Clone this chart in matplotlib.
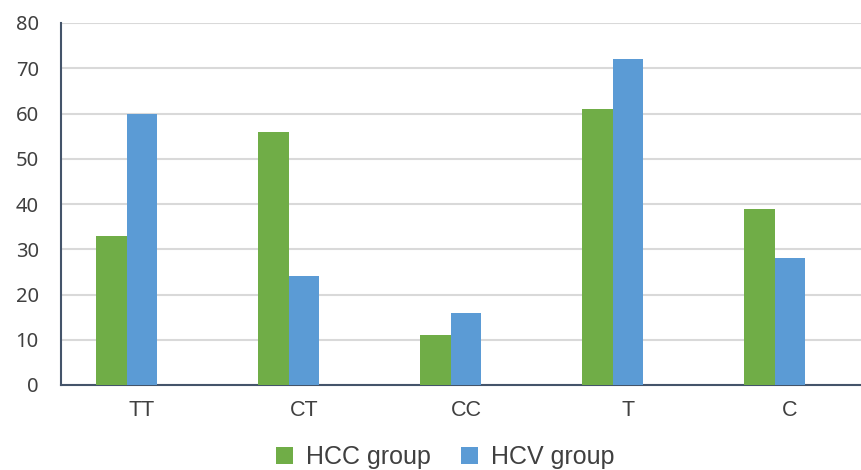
import matplotlib
matplotlib.use("Agg")
import matplotlib.pyplot as plt
import numpy as np

categories = ["TT", "CT", "CC", "T", "C"]
hcc = [33, 56, 11, 61, 39]
hcv = [60, 24, 16, 72, 28]

fig = plt.figure(figsize=(8.61, 4.70), dpi=100)
ax = fig.add_axes([61/861, 85/470, 810/861, 362/470])

x = np.arange(len(categories))
w = 0.19
ax.bar(x - 1.5*w, hcc, width=w, align='edge', color="#70AD47", label="HCC group", zorder=3)
ax.bar(x - 0.5*w, hcv, width=w, align='edge', color="#5B9BD5", label="HCV group", zorder=3)

ax.set_xlim(-0.5, 4.5)
ax.set_ylim(0, 80)
ax.set_yticks(range(0, 81, 10))
ax.set_xticks(x)
ax.set_xticklabels(categories, fontfamily="Liberation Sans", fontsize=15.5, color="#404040")
ax.yaxis.grid(True, color="#D9D9D9", linewidth=1.5, zorder=0)
ax.set_axisbelow(True)
for s in ["top", "right"]:
    ax.spines[s].set_visible(False)
for s in ["left", "bottom"]:
    ax.spines[s].set_color("#44546A")
    ax.spines[s].set_linewidth(1.5)
ax.tick_params(axis='both', length=0)
ax.tick_params(axis='x', pad=11)
ax.tick_params(axis='y', pad=16, labelsize=14.5, colors="#404040", labelfontfamily="Noto Sans")

fig.legend(loc='center', bbox_to_anchor=(445/861, 1 - 457/470), ncol=2, frameon=False,
           prop={'family': 'Liberation Sans', 'size': 18}, handlelength=0.7, handleheight=0.7,
           columnspacing=1.2, handletextpad=0.5, labelcolor="#404040")

fig.savefig("out.png", dpi=100)
